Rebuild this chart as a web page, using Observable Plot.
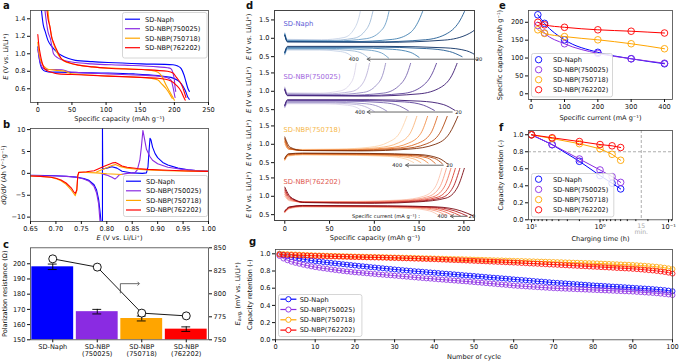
<!DOCTYPE html>
<html><head><meta charset="utf-8">
<script src="https://cdn.jsdelivr.net/npm/d3@7"></script>
<script src="https://cdn.jsdelivr.net/npm/@observablehq/plot@0.6"></script>
<style>
html,body{margin:0;padding:0;background:#fff;}
#fig{position:relative;width:680px;height:362px;overflow:hidden;font-family:"DejaVu Sans",sans-serif;color:#111;}
.plab{position:absolute;font-weight:bold;font-size:10px;line-height:10px;}
</style></head><body><div id="fig"></div>
<script>
// ---------------- shared ----------------
const series = ["SD-Naph", "SD-NBP(750025)", "SD-NBP(750718)", "SD-NBP(762202)"];
const colors = ["#0000ff", "#8a2be2", "#ffa500", "#ff0000"];

// ---------------- panel a (E vs capacity) ----------------
const aNaphUp = [[4,1.6],[8,1.33],[11,1.25],[15,1.15],[21,1.08],[28,1.02],[35,0.98],[45,0.945],[55,0.925],[80,0.91],[103,0.9],[152,0.885],[198,0.875],[205,0.86],[210,0.83],[214,0.76],[217,0.68],[220,0.6],[222,0.57]];
const aNaphDown = [[0,1.08],[2,0.95],[4,0.87],[7,0.82],[11,0.8],[20,0.79],[30.5,0.79],[60,0.785],[103,0.78],[140,0.77],[176,0.75],[195,0.73],[204,0.7],[210,0.66],[216,0.58],[220,0.5],[222,0.48]];
const a25Up = [[9,1.6],[12,1.4],[15,1.25],[18.5,1.17],[21,1.07],[23,1.0],[30,0.95],[40,0.92],[55,0.9],[79,0.885],[127,0.87],[176,0.85],[190,0.84],[195,0.83],[198,0.78],[200,0.7],[201,0.62],[202,0.57]];
const a25Down = [[0,1.05],[3,0.92],[6,0.85],[9,0.83],[15,0.82],[25,0.82],[35,0.818],[40,0.81],[45,0.795],[60,0.785],[103,0.77],[150,0.755],[176,0.745],[190,0.725],[195,0.7],[198,0.62],[200,0.54],[201,0.5]];
const a18Up = [[14,1.6],[16,1.4],[19,1.25],[21,1.17],[25,1.07],[30.5,0.98],[38,0.92],[50,0.885],[79,0.85],[127,0.83],[166,0.81],[176,0.79],[181,0.75],[185,0.69],[188,0.64],[193,0.57],[198,0.5],[200,0.47]];
const a18Down = [[0,1.13],[2,1.0],[6,0.89],[10,0.85],[16,0.82],[30,0.81],[40,0.8],[50,0.77],[70,0.76],[103,0.745],[140,0.735],[166,0.72],[176,0.7],[181,0.66],[188,0.6],[194,0.53],[197,0.49]];
const a02Up = [[12,1.6],[15,1.4],[18,1.3],[20,1.2],[23,1.13],[28,1.04],[35,0.94],[45,0.9],[60,0.87],[80,0.85],[103,0.835],[152,0.82],[190,0.8],[198,0.78],[203,0.73],[208,0.68],[212,0.62],[215,0.55],[217,0.5]];
const a02Down = [[0,1.22],[1.5,1.1],[4,0.98],[7,0.88],[11,0.82],[20,0.79],[30.5,0.77],[60,0.76],[103,0.745],[150,0.73],[176,0.72],[195,0.69],[203,0.64],[210,0.57],[214,0.5],[216,0.47]];

// ---------------- panel b (dQ/dV) ----------------
const bNaphDis = [[0.65,-0.45],[0.68,-0.5],[0.7,-0.55],[0.72,-0.65],[0.74,-0.85],[0.755,-1.2],[0.765,-1.6],[0.775,-2.6],[0.78,-3.8],[0.784,-6],[0.787,-9],[0.789,-11.5]];
const bNaphChg = [[0.7915,-11.5],[0.7915,10.6],[0.792,1.0],[0.8,1.2],[0.81,1.5],[0.82,1.2],[0.83,0.5],[0.85,0.1],[0.87,0.0],[0.878,0.1],[0.881,1.5],[0.883,5],[0.885,8],[0.887,7.6],[0.89,6],[0.895,4.5],[0.9,3.6],[0.91,2.5],[0.92,1.9],[0.94,1.2],[0.96,0.8],[0.98,0.6],[1.0,0.45]];
const b25Dis = [[0.65,-0.5],[0.7,-0.6],[0.72,-0.7],[0.74,-0.9],[0.755,-1.3],[0.765,-1.8],[0.775,-3],[0.78,-4.5],[0.784,-7],[0.786,-10],[0.787,-11.5]];
const b25Chg = [[0.79,-0.1],[0.8,-0.4],[0.81,-0.9],[0.816,-1.3],[0.82,-0.9],[0.825,-0.3],[0.84,0.0],[0.855,0.1],[0.86,0.8],[0.865,3],[0.868,6],[0.871,9.8],[0.874,8],[0.878,5.5],[0.885,3.8],[0.89,3],[0.9,2.2],[0.92,1.4],[0.95,0.9],[0.98,0.6],[1.0,0.5]];
const b18Dis = [[0.65,-0.6],[0.67,-0.7],[0.69,-0.9],[0.7,-1.2],[0.71,-1.7],[0.72,-2.5],[0.73,-3.8],[0.735,-4.6],[0.738,-5.1],[0.741,-4],[0.743,-0.5],[0.745,0.3],[0.76,0.2],[0.78,0.1],[0.8,-0.1],[0.82,-0.2],[0.83,-0.25]];
const b18Chg = [[0.78,0.3],[0.79,0.8],[0.8,1.3],[0.81,1.8],[0.817,2.0],[0.825,1.6],[0.84,1.2],[0.86,0.95],[0.88,0.8],[0.92,0.6],[0.96,0.5],[1.0,0.45]];
const b02Dis = [[0.65,-0.6],[0.67,-0.7],[0.69,-0.9],[0.7,-1.1],[0.71,-1.5],[0.72,-2.2],[0.73,-3.3],[0.735,-4.2],[0.738,-4.6],[0.741,-3.8],[0.743,-0.5],[0.745,0.2]];
const b02Chg = [[0.745,0.2],[0.76,0.35],[0.775,0.6],[0.785,1.1],[0.795,1.6],[0.805,2.1],[0.812,2.4],[0.817,2.5],[0.822,2.2],[0.83,1.7],[0.84,1.4],[0.86,1.1],[0.88,0.9],[0.92,0.7],[0.96,0.55],[1.0,0.45]];

// ---------------- panel c ----------------
const cLabels = ["SD-Naph", "SD-NBP\n(750025)", "SD-NBP\n(750718)", "SD-NBP\n(762202)"];
const cResistance = [198, 168.5, 164, 157];
const cResErr = [1.8, 1.5, 1.6, 1.5];
const cEavg = [838, 829, 779, 776];
const cArrow = [[1.52, 801], [1.52, 811], [1.93, 811]];

// ---------------- panel d (rate curves, order 400 -> 20 mA/g) ----------------
const dCurrents = [400, 300, 200, 100, 40, 20];
const dNaphCharge = [
 [[0,1.15],[3,0.97],[41,0.96],[66,1.02],[76,1.2],[82,1.5],[85,1.8]],
 [[0,1.13],[3,0.95],[48,0.94],[77,1.0],[89,1.18],[96,1.5],[99,1.8]],
 [[0,1.12],[3,0.94],[57,0.93],[91,0.99],[106,1.17],[114,1.5],[117,1.8]],
 [[0,1.1],[3,0.92],[75,0.91],[120,0.97],[140,1.15],[150,1.5],[155,1.8]],
 [[0,1.09],[3,0.91],[98,0.9],[157,0.96],[182,1.14],[196,1.5],[202,1.8]],
 [[0,1.08],[3,0.9],[111,0.89],[178,0.95],[206,1.13],[222,1.5],[229,1.8]]];
const dNaphDischarge = [
 [[0,0.55],[3,0.68],[39,0.68],[62,0.64],[72,0.56],[78,0.44]],
 [[0,0.56],[3,0.7],[47,0.7],[75,0.66],[87,0.58],[94,0.45]],
 [[0,0.58],[3,0.72],[58,0.72],[93,0.68],[108,0.6],[116,0.46]],
 [[0,0.6],[3,0.74],[75,0.74],[120,0.7],[140,0.62],[150,0.48]],
 [[0,0.61],[3,0.76],[99,0.76],[158,0.72],[184,0.64],[198,0.5]],
 [[0,0.62],[3,0.78],[112,0.78],[179,0.74],[203,0.66],[216,0.5]]];
const d25Charge = [
 [[0,1.12],[3,0.96],[39,0.95],[62,1.01],[73,1.2],[78,1.5],[80,1.8]],
 [[0,1.1],[3,0.94],[46,0.93],[74,0.99],[86,1.18],[92,1.5],[95,1.8]],
 [[0,1.08],[3,0.92],[55,0.91],[88,0.97],[102,1.16],[110,1.5],[113,1.8]],
 [[0,1.06],[3,0.9],[68,0.89],[110,0.95],[127,1.14],[137,1.5],[141,1.8]],
 [[0,1.05],[3,0.89],[82,0.88],[132,0.94],[153,1.13],[165,1.5],[170,1.8]],
 [[0,1.04],[3,0.88],[94,0.87],[150,0.93],[175,1.12],[188,1.5],[193,1.8]]];
const d25Discharge = [
 [[0,0.55],[3,0.66],[44,0.66],[70,0.62],[81,0.55],[88,0.44]],
 [[0,0.56],[3,0.68],[50,0.68],[80,0.64],[92,0.56],[100,0.45]],
 [[0,0.58],[3,0.7],[57,0.7],[91,0.66],[105,0.58],[114,0.46]],
 [[0,0.6],[3,0.73],[69,0.73],[110,0.69],[128,0.6],[138,0.47]],
 [[0,0.61],[3,0.75],[84,0.75],[134,0.71],[155,0.62],[167,0.48]],
 [[0,0.62],[3,0.77],[95,0.77],[152,0.73],[177,0.64],[190,0.48]]];
const d18Charge = [
 [[0,1.0],[4,0.88],[20,0.86],[60,0.87],[95,0.92],[115,1.05],[128,1.3],[137,1.8]],
 [[0,1.05],[4,0.87],[20,0.85],[65,0.86],[105,0.91],[127,1.04],[140,1.3],[148,1.8]],
 [[0,1.08],[4,0.87],[20,0.84],[70,0.85],[115,0.9],[138,1.03],[152,1.3],[160,1.8]],
 [[0,1.12],[5,0.88],[20,0.83],[75,0.84],[123,0.89],[148,1.02],[163,1.3],[171,1.8]],
 [[0,1.16],[5,0.9],[20,0.83],[80,0.83],[132,0.88],[158,1.01],[173,1.3],[182,1.8]],
 [[0,1.2],[6,0.92],[20,0.83],[85,0.82],[140,0.87],[168,1.0],[184,1.3],[194,1.8]]];
const d18Discharge = [
 [[0,0.56],[4,0.68],[20,0.71],[70,0.7],[115,0.67],[135,0.6],[144,0.5]],
 [[0,0.57],[4,0.69],[20,0.72],[75,0.71],[122,0.68],[143,0.61],[152,0.5]],
 [[0,0.58],[4,0.7],[20,0.73],[80,0.72],[130,0.69],[151,0.62],[160,0.49]],
 [[0,0.6],[4,0.72],[20,0.74],[85,0.73],[137,0.7],[159,0.63],[168,0.48]],
 [[0,0.61],[4,0.73],[20,0.75],[90,0.74],[144,0.71],[167,0.62],[176,0.47]],
 [[0,0.62],[4,0.74],[20,0.76],[95,0.75],[150,0.72],[172,0.62],[182,0.46]]];
const d02Charge = [
 [[0,1.0],[5,0.88],[20,0.85],[80,0.86],[130,0.9],[155,1.0],[168,1.25],[176,1.8]],
 [[0,1.05],[5,0.9],[20,0.84],[80,0.85],[134,0.89],[160,0.99],[173,1.25],[181,1.8]],
 [[0,1.1],[5,0.93],[20,0.84],[85,0.84],[138,0.88],[165,0.98],[178,1.25],[186,1.8]],
 [[0,1.15],[5,0.96],[20,0.84],[90,0.83],[142,0.87],[170,0.97],[183,1.25],[191,1.8]],
 [[0,1.2],[5,0.99],[20,0.84],[95,0.82],[146,0.86],[175,0.96],[188,1.25],[196,1.8]],
 [[0,1.25],[5,1.02],[12,0.9],[22,0.83],[100,0.81],[150,0.85],[180,0.95],[193,1.25],[201,1.8]]];
const d02Discharge = [
 [[0,0.55],[5,0.66],[20,0.71],[90,0.7],[140,0.67],[162,0.6],[172,0.48]],
 [[0,0.56],[5,0.67],[20,0.72],[95,0.71],[146,0.68],[169,0.6],[180,0.48]],
 [[0,0.57],[5,0.68],[20,0.73],[100,0.72],[152,0.69],[176,0.6],[188,0.47]],
 [[0,0.58],[5,0.69],[20,0.735],[105,0.725],[158,0.7],[183,0.6],[196,0.47]],
 [[0,0.59],[5,0.7],[20,0.74],[110,0.73],[164,0.705],[190,0.6],[204,0.46]],
 [[0,0.6],[5,0.71],[20,0.75],[115,0.74],[170,0.71],[197,0.6],[212,0.45]]];
const dPalNaph = ["#c6d3e6","#9fbad6","#6b9ec6","#3f7fb0","#1f5a92","#0b2f63"];
const dPal25 = ["#dcd6ea","#bcb3d9","#9a8ec5","#7a68b0","#5b3f98","#3a1670"];
const dPal18 = ["#fdd5ad","#fbb57a","#f3904a","#de6a24","#b1470f","#7a2a06"];
const dPal02 = ["#fcc5b0","#f99d83","#f0705a","#dc4536","#b41d22","#7a0a12"];
const dLabelColors = ["#5b5bd6","#a066dd","#f6b84a","#e05a4f"];
const dArrowTail = [216, 187, 177, 203];
const dArrowTip = [92, 92, 135, 185];
const dArrowY = [0.43, 0.435, 0.43, 0.455];
const d400X = [77, 84, 125.6, 176];
const d20X = [217, 194, 184, 209];

// ---------------- panel e ----------------
const eCurrent = [20, 40, 100, 200, 300, 400];
const eNaph = [221, 197, 151, 116, 98, 84];
const e25 = [191, 170, 140, 113, 98, 85.5];
const e18 = [179, 169, 160, 151, 140, 126];
const e02 = [200, 193, 186, 179, 175, 170];

// ---------------- panel f ----------------
const fTime = [10, 5, 2, 1, 0.667, 0.5];
const fNaph = [1.0, 0.883, 0.688, 0.52, 0.43, 0.363];
const f25 = [1.0, 0.885, 0.715, 0.586, 0.508, 0.44];
const f18 = [1.0, 0.955, 0.895, 0.835, 0.77, 0.70];
const f02 = [1.0, 0.965, 0.92, 0.885, 0.87, 0.85];
const fMinor = [9,8,7,6,5,4,3,2,0.9,0.8,0.7,0.6,0.5,0.4,0.3,0.2,0.09];

// ---------------- panel g (cycles 1..100) ----------------
const gNaph = [1.000,0.984,0.972,0.962,0.953,0.945,0.937,0.930,0.922,0.915,0.910,0.904,0.899,0.894,0.889,0.884,0.879,0.874,0.869,0.864,0.859,0.855,0.850,0.845,0.841,0.836,0.832,0.827,0.823,0.818,0.814,0.810,0.806,0.802,0.798,0.795,0.791,0.787,0.783,0.780,0.776,0.772,0.768,0.765,0.761,0.757,0.753,0.749,0.746,0.742,0.738,0.734,0.730,0.726,0.722,0.719,0.715,0.711,0.707,0.703,0.699,0.696,0.692,0.688,0.684,0.680,0.677,0.673,0.669,0.665,0.662,0.659,0.656,0.652,0.649,0.646,0.643,0.640,0.636,0.633,0.630,0.628,0.625,0.622,0.619,0.617,0.614,0.611,0.608,0.605,0.602,0.599,0.596,0.593,0.590,0.586,0.582,0.578,0.572,0.565];
const g25 = [0.975,0.945,0.925,0.908,0.895,0.884,0.873,0.863,0.854,0.845,0.838,0.831,0.825,0.818,0.812,0.806,0.800,0.795,0.790,0.785,0.781,0.777,0.773,0.769,0.765,0.761,0.757,0.753,0.750,0.746,0.742,0.738,0.734,0.730,0.726,0.722,0.718,0.714,0.711,0.707,0.703,0.700,0.696,0.693,0.689,0.686,0.682,0.679,0.675,0.671,0.667,0.663,0.659,0.655,0.651,0.647,0.643,0.639,0.635,0.630,0.627,0.624,0.621,0.618,0.615,0.612,0.609,0.606,0.603,0.600,0.598,0.596,0.594,0.592,0.590,0.588,0.586,0.584,0.582,0.580,0.578,0.576,0.574,0.572,0.570,0.568,0.566,0.564,0.562,0.560,0.557,0.554,0.551,0.548,0.545,0.541,0.537,0.532,0.527,0.520];
const g18 = [1.000,0.998,0.996,0.994,0.992,0.990,0.988,0.986,0.984,0.982,0.981,0.979,0.978,0.976,0.975,0.974,0.972,0.971,0.970,0.968,0.967,0.966,0.965,0.964,0.963,0.962,0.961,0.960,0.958,0.957,0.956,0.955,0.954,0.953,0.952,0.950,0.949,0.948,0.947,0.945,0.944,0.943,0.942,0.940,0.939,0.938,0.937,0.935,0.934,0.932,0.931,0.930,0.928,0.927,0.925,0.924,0.923,0.921,0.920,0.918,0.917,0.916,0.914,0.913,0.912,0.910,0.909,0.908,0.906,0.905,0.903,0.902,0.900,0.899,0.897,0.896,0.894,0.893,0.891,0.890,0.888,0.886,0.884,0.882,0.880,0.878,0.876,0.874,0.872,0.870,0.867,0.864,0.861,0.857,0.853,0.849,0.844,0.838,0.831,0.822];
const g02 = [0.990,0.989,0.987,0.986,0.984,0.982,0.981,0.979,0.977,0.975,0.974,0.973,0.971,0.970,0.969,0.967,0.966,0.965,0.963,0.962,0.961,0.960,0.959,0.958,0.957,0.956,0.955,0.954,0.952,0.951,0.950,0.948,0.947,0.946,0.944,0.943,0.941,0.940,0.938,0.937,0.935,0.933,0.931,0.929,0.927,0.926,0.924,0.922,0.920,0.918,0.916,0.914,0.912,0.910,0.908,0.906,0.904,0.902,0.900,0.898,0.896,0.893,0.891,0.888,0.886,0.884,0.881,0.879,0.876,0.874,0.872,0.869,0.867,0.864,0.862,0.860,0.857,0.855,0.852,0.850,0.848,0.845,0.843,0.840,0.838,0.835,0.833,0.830,0.828,0.825,0.822,0.818,0.814,0.810,0.806,0.801,0.795,0.789,0.781,0.770];

// ================= rendering =================
const fig = document.getElementById("fig");
function put(node, left, top) {
  node.style.position = "absolute";
  node.style.left = left + "px";
  node.style.top = top + "px";
  fig.appendChild(node);
  return node;
}
const STYLE = {fontFamily: "'DejaVu Sans', sans-serif", fontSize: "6.6px", background: "none", overflow: "visible", color: "#111"};
const AX = {tickSize: 3, tickPadding: 2, labelAnchor: "center", labelArrow: "none"};
const FR = {stroke: "#444", strokeWidth: 0.8};
const X0 = d => d[0], Y1 = d => d[1];
const f1 = d3.format(".1f");

function rich(svg, label, parts) {
  d3.select(svg).selectAll("text").filter(function () { return this.textContent === label; }).each(function () {
    const t = d3.select(this);
    t.text("");
    parts.forEach(([s, k]) => {
      const ts = t.append("tspan").text(s);
      if (k === "i") ts.attr("font-style", "italic");
      if (k === "sub") ts.attr("font-size", "5px").attr("dy", "1.5");
      if (k === "back") ts.attr("dy", "-1.5");
    });
  });
}
const ELABEL = "E (V vs. Li/Li⁺)";
const EPARTS = [["E", "i"], [" (V vs. Li/Li⁺)"]];

function legend(left, top, w, h, o) {
  const svg = d3.create("svg").attr("width", w + 2).attr("height", h + 2).style("overflow", "visible");
  svg.append("rect").attr("x", 0.5).attr("y", 0.5).attr("width", w).attr("height", h).attr("rx", 2)
    .attr("fill", "rgba(255,255,255,0.85)").attr("stroke", "#cccccc").attr("stroke-width", 0.8);
  series.forEach((name, i) => {
    const y = o.y0 + i * o.dy;
    if (o.line) svg.append("line").attr("x1", o.lx1).attr("x2", o.lx2).attr("y1", y).attr("y2", y).attr("stroke", colors[i]).attr("stroke-width", 1.2);
    if (o.dot) svg.append("circle").attr("cx", o.cx).attr("cy", y).attr("r", o.r).attr("fill", o.line ? "#fff" : "none").attr("stroke", colors[i]).attr("stroke-width", 0.9);
    svg.append("text").attr("x", o.tx).attr("y", y).attr("dy", "0.35em").attr("font-size", "6.6px").attr("fill", "#111").text(name);
  });
  put(svg.node(), left, top);
}

// ---- panel a ----
{
  const up = [aNaphUp, a25Up, a18Up, a02Up], dn = [aNaphDown, a25Down, a18Down, a02Down];
  const marks = [];
  for (let i = 0; i < 4; i++) {
    marks.push(Plot.line(up[i], {x: X0, y: Y1, stroke: colors[i], strokeWidth: 1.1, curve: "monotone-x", clip: true}));
    marks.push(Plot.line(dn[i], {x: X0, y: Y1, stroke: colors[i], strokeWidth: 1.1, curve: "monotone-x", clip: true}));
  }
  const p = Plot.plot({
    width: 250, height: 125, marginTop: 10, marginBottom: 23, marginLeft: 30, marginRight: 42,
    x: {domain: [-10.7, 250]}, y: {domain: [0.443, 1.495]}, style: STYLE,
    marks: [...marks, Plot.frame(FR),
      Plot.axisX({...AX, ticks: [0, 50, 100, 150, 200, 250], label: "Specific capacity (mAh g⁻¹)", labelOffset: 18.3}),
      Plot.axisY({...AX, ticks: [0.6, 0.8, 1.0, 1.2, 1.4], tickFormat: f1, label: ELABEL, labelOffset: 27})]
  });
  put(p, 0, 0); rich(p, ELABEL, EPARTS);
  legend(122, 12, 84.5, 45.5, {line: true, lx1: 3, lx2: 18, tx: 23, y0: 7.2, dy: 9.5});
}

// ---- panel b ----
{
  const br = [[bNaphDis, bNaphChg], [b25Dis, b25Chg], [b18Dis, b18Chg], [b02Dis, b02Chg]];
  const marks = [];
  br.forEach((pair, i) => pair.forEach(b => marks.push(Plot.line(b, {x: X0, y: Y1, stroke: colors[i], strokeWidth: 1.1, clip: true}))));
  const lab = "dQ/dV (Ah V⁻¹g⁻¹)";
  const p = Plot.plot({
    width: 250, height: 125, marginTop: 10, marginBottom: 22, marginLeft: 30, marginRight: 42,
    x: {domain: [0.65, 1.0]}, y: {domain: [-11, 10.25]}, style: STYLE,
    marks: [...marks, Plot.frame(FR),
      Plot.axisX({...AX, ticks: [0.65, 0.7, 0.75, 0.8, 0.85, 0.9, 0.95, 1.0], tickFormat: d3.format(".2f"), label: ELABEL, labelOffset: 18.3}),
      Plot.axisY({...AX, ticks: [-10, -5, 0, 5, 10], label: lab, labelOffset: 29})]
  });
  put(p, 0, 118); rich(p, ELABEL, EPARTS); rich(p, lab, [["dQ/dV", "i"], [" (Ah V⁻¹g⁻¹)"]]);
  legend(122.5, 174.5, 84, 41, {line: true, lx1: 3, lx2: 18, tx: 23, y0: 6.2, dy: 9.6});
}

// ---- panel c ----
{
  const idx = [0, 1, 2, 3];
  const p = Plot.plot({
    width: 250, height: 122, marginTop: 7.3, marginBottom: 22.7, marginLeft: 30, marginRight: 42,
    x: {domain: [-0.5, 3.5]}, y: {domain: [150, 210.5]}, style: STYLE,
    marks: [
      Plot.rectY(idx, {x1: i => i - 0.47, x2: i => i + 0.47, y1: () => 150, y2: i => cResistance[i], fill: i => colors[i]}),
      Plot.ruleX(idx, {x: i => i, y1: i => cResistance[i] - cResErr[i], y2: i => cResistance[i] + cResErr[i], stroke: "#000", strokeWidth: 0.9}),
      Plot.ruleY(idx, {y: i => cResistance[i] + cResErr[i], x1: i => i - 0.1, x2: i => i + 0.1, stroke: "#000", strokeWidth: 0.9}),
      Plot.ruleY(idx, {y: i => cResistance[i] - cResErr[i], x1: i => i - 0.1, x2: i => i + 0.1, stroke: "#000", strokeWidth: 0.9}),
      Plot.frame(FR),
      Plot.axisX({...AX, ticks: idx, tickFormat: i => cLabels[i], label: null}),
      Plot.axisY({...AX, ticks: [150, 160, 170, 180, 190, 200], label: "Polarization resistance (Ω)", labelOffset: 28.6})]
  });
  put(p, 0, 240);
  const lab = "E_avg (mV vs. Li/Li⁺)";
  const q = Plot.plot({
    width: 250, height: 122, marginTop: 7.3, marginBottom: 22.7, marginLeft: 30, marginRight: 42,
    x: {domain: [-0.5, 3.5], axis: null}, y: {domain: [750, 850]}, style: STYLE,
    marks: [
      Plot.line(idx, {x: i => i, y: i => cEavg[i], stroke: "#000", strokeWidth: 0.9}),
      Plot.dot(idx, {x: i => i, y: i => cEavg[i], r: 4, fill: "#fff", stroke: "#000", strokeWidth: 0.9}),
      Plot.line(cArrow, {x: X0, y: Y1, stroke: "#444", strokeWidth: 0.8, markerEnd: "arrow"}),
      Plot.axisY({...AX, anchor: "right", ticks: [750, 775, 800, 825, 850], label: lab, labelOffset: 31.4})]
  });
  put(q, 0, 240); rich(q, lab, [["E", "i"], ["avg.", "sub"], [" (mV vs. Li/Li⁺)", "back"]]);
}

// ---- panel d ----
{
  const rows = [
    {charge: dNaphCharge, discharge: dNaphDischarge, pal: dPalNaph},
    {charge: d25Charge, discharge: d25Discharge, pal: dPal25},
    {charge: d18Charge, discharge: d18Discharge, pal: dPal18},
    {charge: d02Charge, discharge: d02Discharge, pal: dPal02}];
  const rowH = 52.75;
  rows.forEach((m, r) => {
    const marks = [];
    dCurrents.forEach((c, j) => {
      marks.push(Plot.line(m.discharge[j], {x: X0, y: Y1, stroke: m.pal[j], strokeWidth: 0.9, curve: "monotone-x", clip: true}));
      marks.push(Plot.line(m.charge[j], {x: X0, y: Y1, stroke: m.pal[j], strokeWidth: 0.9, curve: "monotone-x", clip: true}));
    });
    marks.push(Plot.text([series[r]], {x: () => -1.5, y: () => 1.39, text: d => d, textAnchor: "start", fill: dLabelColors[r], fontSize: 6.8}));
    marks.push(Plot.arrow([r], {x1: i => dArrowTail[i], x2: i => dArrowTip[i], y1: i => dArrowY[i], y2: i => dArrowY[i], stroke: "#666", strokeWidth: 1, headLength: 5}));
    marks.push(Plot.text([r], {x: i => d400X[i], y: i => dArrowY[i], text: () => "400", fontSize: 5.2, fill: "#111"}));
    marks.push(Plot.text([r], {x: i => d20X[i], y: i => dArrowY[i], text: () => "20", fontSize: 5.2, fill: "#111"}));
    if (r === 3) marks.push(Plot.text([r], {x: () => 113, y: i => dArrowY[i], text: () => "Specific current (mA g⁻¹) :", fontSize: 5.2, fill: "#111"}));
    marks.push(Plot.axisY({...AX, ticks: [0.5, 1.0, 1.5], tickFormat: f1, label: ELABEL, labelOffset: 28.3}));
    const last = r === 3;
    if (last) marks.push(Plot.axisX({...AX, ticks: [0, 50, 100, 150, 200], label: "Specific capacity (mAh g⁻¹)", labelOffset: 18.5}));
    const p = Plot.plot({
      width: 230, height: rowH + (last ? 30 : 0), marginTop: 0, marginBottom: last ? 30 : 0, marginLeft: 29, marginRight: 0,
      x: last ? {domain: [-11.5, 213]} : {domain: [-11.5, 213], axis: null}, y: {domain: [0.32, 1.757]}, style: STYLE,
      marks
    });
    put(p, 245, 10 + r * rowH); rich(p, ELABEL, EPARTS);
  });
  const box = document.createElement("div");
  box.style.cssText = "width:201px;height:211px;box-sizing:border-box;border:0.8px solid #444;pointer-events:none;";
  put(box, 274, 10);
}

// ---- panel e ----
{
  const ys = [eNaph, e25, e18, e02];
  const marks = [];
  ys.forEach((v, i) => {
    marks.push(Plot.line(eCurrent, {x: d => d, y: (d, k) => v[k], stroke: colors[i], strokeWidth: 1, curve: "monotone-x"}));
    marks.push(Plot.dot(eCurrent, {x: d => d, y: (d, k) => v[k], stroke: colors[i], r: 3.3, fill: "none", strokeWidth: 0.9}));
  });
  const lab = "Specific capacity (mAh g⁻¹)";
  const p = Plot.plot({
    width: 220, height: 122, marginTop: 10, marginBottom: 23, marginLeft: 68, marginRight: 8,
    x: {domain: [-8, 424]}, y: {domain: [-16, 233]}, style: STYLE,
    marks: [...marks, Plot.frame(FR),
      Plot.axisX({...AX, ticks: [0, 100, 200, 300, 400], label: "Specific current (mA g⁻¹)", labelOffset: 20.3}),
      Plot.axisY({...AX, ticks: [0, 50, 100, 150, 200], label: lab, labelOffset: 31})]
  });
  put(p, 460, 0);
  legend(530.7, 53.3, 81, 43.4, {dot: true, cx: 7.6, r: 3.2, tx: 22, y0: 6.7, dy: 10});
}

// ---- panel f ----
{
  const ys = [fNaph, f25, f18, f02];
  const marks = [
    Plot.ruleY([0.8], {stroke: "#999", strokeWidth: 0.8, strokeDasharray: "3,2"}),
    Plot.ruleX([0.25], {stroke: "#999", strokeWidth: 0.8, strokeDasharray: "3,2"}),
    Plot.text([0.25], {x: d => d, frameAnchor: "bottom", dy: 4, lineAnchor: "top", text: () => "15\nmin.", fill: "#aaa", fontSize: 6.2})];
  ys.forEach((v, i) => {
    marks.push(Plot.line(fTime, {x: d => d, y: (d, k) => v[k], stroke: colors[i], strokeWidth: 1}));
    marks.push(Plot.dot(fTime, {x: d => d, y: (d, k) => v[k], stroke: colors[i], r: 3.3, fill: "none", strokeWidth: 0.9}));
  });
  const sup = {10: "10¹", 1: "10⁰", 0.1: "10⁻¹"};
  const p = Plot.plot({
    width: 220, height: 122, marginTop: 12, marginBottom: 20.7, marginLeft: 68, marginRight: 8,
    x: {type: "log", domain: [11.07, 0.0875]}, y: {domain: [0, 1.05]}, style: STYLE,
    marks: [...marks, Plot.frame(FR),
      Plot.axisX({...AX, ticks: fMinor, tickSize: 1.8, tickFormat: () => "", label: null}),
      Plot.axisX({...AX, ticks: [10, 1, 0.1], tickFormat: d => sup[d], label: "Charging time (h)", labelOffset: 20.8}),
      Plot.axisY({...AX, ticks: [0, 0.2, 0.4, 0.6, 0.8, 1.0], tickFormat: f1, label: "Capacity retention (-)", labelOffset: 30})]
  });
  put(p, 460, 118);
  legend(530.7, 173.3, 82.3, 43.4, {dot: true, cx: 7.6, r: 3.2, tx: 22, y0: 6.2, dy: 10.2});
}

// ---- panel g ----
{
  const ys = [gNaph, g25, g18, g02];
  const marks = [];
  ys.forEach((v, i) => {
    marks.push(Plot.line(v, {x: (d, k) => k + 1, y: d => d, stroke: colors[i], strokeWidth: 0.8}));
    marks.push(Plot.dot(v, {x: (d, k) => k + 1, y: d => d, stroke: colors[i], r: 2.5, fill: "none", strokeWidth: 0.8}));
  });
  const p = Plot.plot({
    width: 440, height: 122, marginTop: 9, marginBottom: 22.7, marginLeft: 35, marginRight: 8,
    x: {domain: [0, 100]}, y: {domain: [0, 1.05]}, style: STYLE,
    marks: [...marks, Plot.frame(FR),
      Plot.axisX({...AX, ticks: [0, 10, 20, 30, 40, 50, 60, 70, 80, 90, 100], label: "Number of cycle", labelOffset: 19.2}),
      Plot.axisY({...AX, ticks: [0, 0.2, 0.4, 0.6, 0.8, 1.0], tickFormat: f1, label: "Capacity retention (-)", labelOffset: 28})]
  });
  put(p, 240, 240);
  legend(278.3, 293.5, 83.4, 42, {line: true, dot: true, lx1: 2.4, lx2: 18.4, cx: 10.4, r: 2.6, tx: 21.7, y0: 5.2, dy: 10.3});
}

// ---- panel letters ----
[["a", 3, 1], ["b", 3, 120], ["c", 3, 240], ["d", 246, 1], ["e", 499, 1], ["f", 499, 123], ["g", 249, 237]].forEach(([t, l, tp]) => {
  const d = document.createElement("div");
  d.className = "plab"; d.textContent = t;
  put(d, l, tp);
});
</script></body></html>
